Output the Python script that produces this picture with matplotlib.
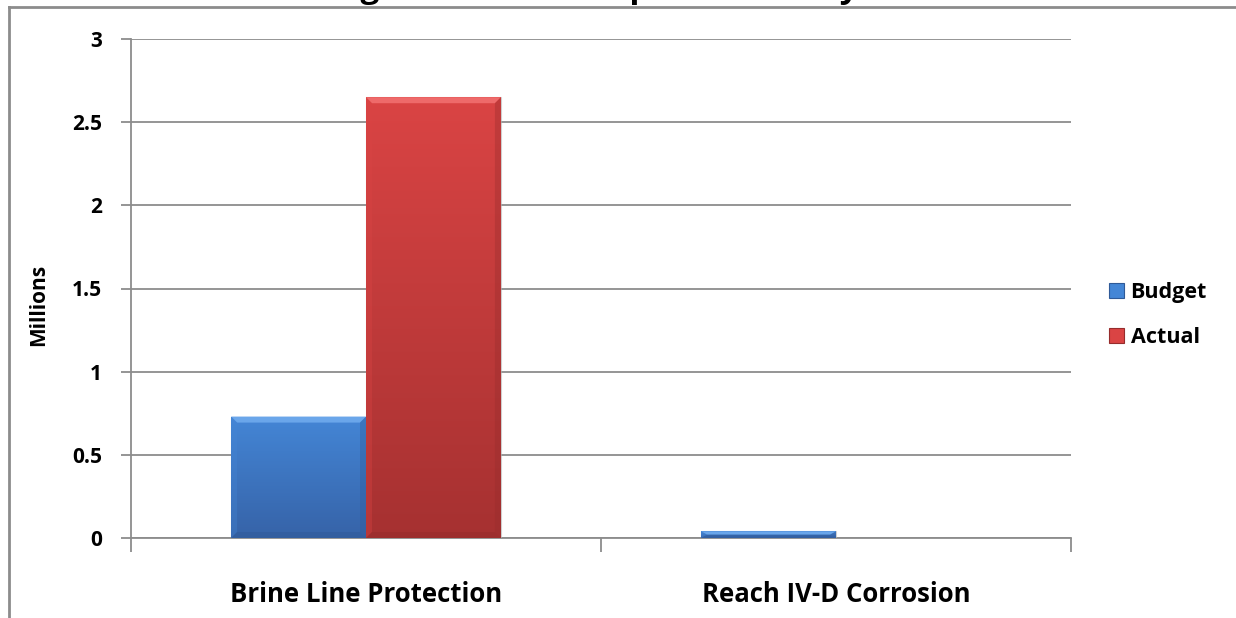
import numpy as np
import matplotlib.pyplot as plt
from matplotlib.patches import Polygon, Patch
from matplotlib.colors import LinearSegmentedColormap
from matplotlib.lines import Line2D

# Chart data
categories = ["Brine Line Protection", "Reach IV-D Corrosion"]
series_names = ["Budget", "Actual"]
budget = [0.73, 0.04]
actual = [2.65, 0.0]
y_ticks = [0, 0.5, 1, 1.5, 2, 2.5, 3]
y_tick_labels = ["0", "0.5", "1", "1.5", "2", "2.5", "3"]
title = "Budget vs. Actual Expenditures by Year"

plt.rcParams['font.family'] = ['Open Sans', 'DejaVu Sans']
plt.rcParams['font.weight'] = 'bold'

fig = plt.figure(figsize=(12.36, 6.18), dpi=100)
ax = fig.add_axes([131/1236, 80/618, 940/1236, 499/618])

# colours: (bevel light, gradient top, gradient bottom, dark edge)
styles = {
    "Budget": ("#6aa6ea", "#4486d6", "#3663a8", "#2f5a98"),
    "Actual": ("#ee6a6a", "#da4444", "#a63131", "#962c2c"),
}

width = 0.287
x = np.arange(len(categories))
ax.set_xlim(-0.5, len(categories) - 0.5)
ax.set_ylim(0, 3)

# pixel sizes of the bevel in data units
bev_x = 6 / 470
bev_y = 6 / 166.3

for name, vals, off in [("Budget", budget, -width/2), ("Actual", actual, width/2)]:
    light, top, bottom, dark = styles[name]
    cmap = LinearSegmentedColormap.from_list(name, [bottom, top])
    bars = ax.bar(x + off, vals, width, color=top, edgecolor='none', zorder=3)
    for b, v in zip(bars, vals):
        if v <= 0:
            continue
        x0, x1 = b.get_x(), b.get_x() + b.get_width()
        grad = np.linspace(0, 1, 256).reshape(-1, 1)
        im = ax.imshow(grad, extent=[x0, x1, 0, v], origin='lower', aspect='auto',
                       cmap=cmap, zorder=3.1)
        im.set_clip_path(b)
        by = min(bev_y, v / 2)
        bx = min(bev_x, by * 470 / 166.3)
        # top bevel
        ax.add_patch(Polygon([(x0, v), (x1, v), (x1 - bx, v - by), (x0 + bx, v - by)],
                             closed=True, color=light, lw=0, zorder=3.2))
        # side bevels
        ax.add_patch(Polygon([(x0, v), (x0 + bx, v - by), (x0 + bx, by), (x0, 0)],
                             closed=True, color=top, alpha=0.35, lw=0, zorder=3.2))
        ax.add_patch(Polygon([(x1, v), (x1 - bx, v - by), (x1 - bx, by), (x1, 0)],
                             closed=True, color=dark, alpha=0.35, lw=0, zorder=3.2))
        ax.add_patch(Polygon([(x0, 0), (x1, 0), (x1 - bx, by), (x0 + bx, by)],
                             closed=True, color=dark, alpha=0.5, lw=0, zorder=3.2))
        ax.add_patch(Polygon([(x0, 0), (x1, 0), (x1, v), (x0, v)], closed=True,
                             fill=False, edgecolor='#b0b0b0', lw=0.8, alpha=0.6, zorder=2.9))

grid_col = '#8c8c8c'
ax.set_yticks(y_ticks)
ax.set_yticklabels(y_tick_labels, fontsize=15, fontweight='bold')
ax.yaxis.grid(True, color=grid_col, lw=1.3, zorder=1)
ax.set_axisbelow(True)
ax.tick_params(axis='y', direction='out', length=7, width=1.3, color=grid_col, pad=14)

ax.set_xticks(x)
ax.set_xticklabels(categories, fontsize=18.5, fontweight='bold')
ax.set_xticks([-0.5, 0.5, 1.5], minor=True)
ax.tick_params(axis='x', which='major', length=0, pad=31)
ax.tick_params(axis='x', which='minor', direction='out', length=10, width=1.3, color=grid_col)

for s in ['top', 'right']:
    ax.spines[s].set_visible(False)
ax.spines['left'].set_color(grid_col)
ax.spines['left'].set_linewidth(1.3)
ax.spines['bottom'].set_color(grid_col)
ax.spines['bottom'].set_linewidth(1.3)

ax.set_ylabel("Millions", fontsize=15, fontweight='bold')
ax.yaxis.set_label_coords((49 - 131) / 940, (538 - 305) / 499)

handles = [Patch(facecolor=styles[n][1], edgecolor=styles[n][3], lw=0.8) for n in series_names]
leg = fig.legend(handles, series_names, loc='center left',
                 bbox_to_anchor=(1109/1236, 1 - 315/618), bbox_transform=fig.transFigure,
                 frameon=False, handlelength=0.7, handleheight=0.7, borderpad=0,
                 borderaxespad=0, handletextpad=0.3, labelspacing=1.15,
                 prop={'weight': 'bold', 'size': 15.5})

# outer frame (top and left edges of the slide box)
fig.add_artist(Line2D([9/1236, 1], [1 - 7/618, 1 - 7/618], color=grid_col, lw=2,
                      transform=fig.transFigure))
fig.add_artist(Line2D([9/1236, 9/1236], [0, 1 - 7/618], color=grid_col, lw=2,
                      transform=fig.transFigure))

# title, clipped by the top edge as in the source image
fig.text(0.5, 1 + 3/618, title, ha='center', va='baseline', fontsize=24, fontweight='bold')

fig.savefig("out.png", dpi=100)
